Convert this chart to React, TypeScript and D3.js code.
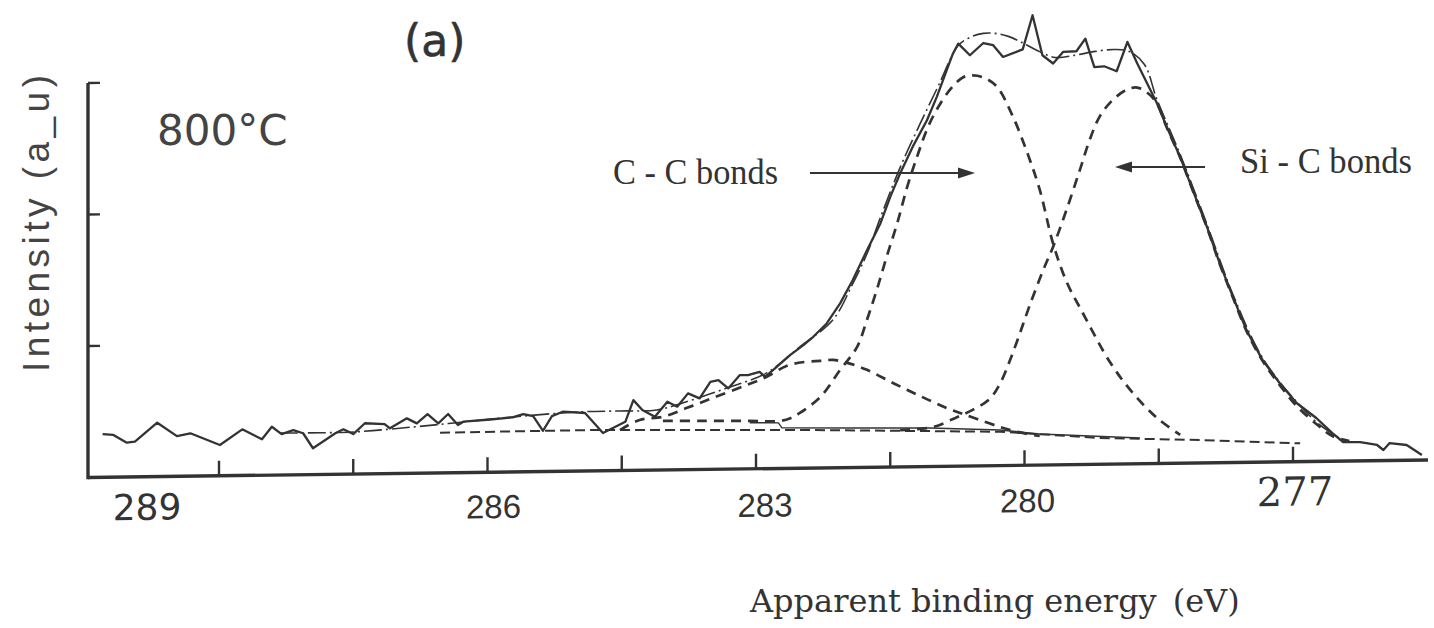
import React from "react";
import * as d3 from "d3";

// ---------- data (binding energy eV, intensity a.u.) ----------
const majorTicksE = [289, 287.5, 286, 284.5, 283, 281.5, 280, 278.5, 277];
const tickLabelValues = [289, 286, 283, 280, 277];
const intensityTicks = [100, 200, 300];

const measured: [number, number][] = [
  [290.30, 32.9], [290.18, 32.1], [290.03, 26.1], [289.94, 26.8], [289.69, 41.0], [289.47, 30.6],
  [289.32, 32.6], [288.99, 23.4], [288.74, 35.1], [288.52, 27.3], [288.41, 36.8], [288.30, 31.1],
  [288.17, 34.0], [288.06, 31.5], [287.95, 20.0], [287.70, 31.2], [287.61, 34.1], [287.50, 30.4],
  [287.37, 38.5], [287.15, 37.7], [287.09, 34.4], [286.90, 41.8], [286.79, 37.9], [286.67, 44.8],
  [286.55, 37.7], [286.44, 44.7], [286.33, 36.2], [286.27, 38.7], [285.97, 40.1], [285.72, 41.5],
  [285.60, 43.9], [285.49, 42.3], [285.38, 31.0], [285.28, 42.1], [285.16, 45.3], [284.91, 44.1],
  [284.71, 28.7], [284.46, 37.0], [284.37, 53.4], [284.27, 45.8], [284.13, 40.5], [283.99, 51.8],
  [283.88, 48.0], [283.76, 58.0], [283.63, 54.1], [283.51, 66.6], [283.42, 67.8], [283.31, 61.4],
  [283.18, 71.4], [283.09, 71.3], [282.96, 73.7], [282.90, 69.8], [282.81, 74.9], [282.62, 86.1],
  [282.47, 93.6], [282.36, 99.8], [282.21, 109.8], [282.06, 124.9], [281.92, 142.4], [281.76, 165.1],
  [281.61, 185.3], [281.50, 205.4], [281.39, 223.1], [281.25, 243.2], [281.09, 263.3], [280.98, 281.0],
  [280.87, 301.1], [280.80, 313.7], [280.74, 321.3], [280.61, 312.3], [280.46, 321.5], [280.35, 319.7],
  [280.24, 310.7], [280.02, 316.3], [279.91, 342.1], [279.80, 311.6], [279.68, 305.2], [279.57, 313.9],
  [279.42, 314.3], [279.32, 323.8], [279.22, 302.0], [279.11, 302.6], [278.97, 298.7], [278.85, 320.9],
  [278.74, 304.4], [278.52, 274.0], [278.41, 255.7], [278.26, 232.7], [278.12, 207.5], [277.96, 179.2],
  [277.82, 151.8], [277.67, 125.8], [277.52, 100.5], [277.34, 77.6], [277.15, 60.0], [276.96, 44.6],
  [276.74, 33.0], [276.56, 21.4], [276.44, 14.5], [276.25, 14.3], [276.06, 11.9], [275.99, 8.0],
  [275.92, 13.2], [275.73, 11.6], [275.56, 3.8],
];

const envelope: [number, number][] = [
  [288.32, 31.9], [287.50, 32.0], [286.83, 35.2], [286.27, 38.5], [285.72, 41.8], [284.97, 45.0],
  [284.52, 45.3], [284.11, 45.7], [283.82, 50.8], [283.32, 61.8], [282.88, 72.8], [282.51, 92.3],
  [282.14, 112.5], [281.92, 139.7], [281.76, 162.4], [281.61, 189.7], [281.39, 227.6], [281.17, 260.2],
  [280.94, 292.7], [280.83, 309.4], [280.74, 320.0], [280.61, 325.9], [280.46, 328.8], [280.33, 328.7],
  [280.18, 326.3], [280.05, 322.3], [279.88, 316.1], [279.66, 309.8], [279.44, 311.2], [279.21, 314.0],
  [278.99, 315.3], [278.83, 313.6], [278.66, 303.6], [278.52, 276.8], [278.26, 234.7], [277.96, 181.1],
  [277.67, 127.6], [277.34, 79.3], [276.96, 45.5], [276.70, 27.7], [276.48, 17.6],
];

const background: [number, number][] = [
  [286.53, 30.6], [284.74, 31.1], [282.51, 29.1], [280.27, 25.7], [279.16, 20.0], [278.04, 17.4], [276.92, 13.9],
];

const backgroundSolid: [number, number][] = [
  [283.07, 35.0], [282.75, 34.7], [282.71, 30.8], [281.95, 30.1], [281.06, 29.3], [280.27, 27.0],
  [279.83, 23.6], [278.71, 19.6],
];

const peakCC: [number, number][] = [
  [284.04, 37.3], [283.63, 36.9], [283.07, 36.4], [282.73, 36.1], [282.61, 38.3], [282.51, 42.0],
  [282.28, 54.0], [282.06, 74.3], [281.87, 91.7], [281.76, 112.2], [281.65, 134.9], [281.54, 159.9],
  [281.42, 185.8], [281.31, 213.0], [281.20, 235.8], [281.09, 256.3], [280.98, 271.4], [280.83, 286.5],
  [280.69, 295.5], [280.58, 297.0], [280.46, 295.3], [280.31, 288.3], [280.13, 265.3], [279.97, 237.8],
  [279.83, 209.4], [279.68, 168.2], [279.53, 139.1], [279.35, 115.4], [279.04, 77.0], [278.79, 53.9],
  [278.52, 34.7], [278.26, 21.5],
];

const peakSiC: [number, number][] = [
  [281.39, 28.0], [281.02, 30.0], [280.75, 37.4], [280.58, 42.6], [280.39, 50.7], [280.27, 62.8],
  [280.16, 80.3], [280.05, 100.7], [279.94, 121.9], [279.79, 148.4], [279.68, 165.9], [279.53, 193.9],
  [279.38, 224.3], [279.27, 247.1], [279.16, 264.4], [279.01, 277.2], [278.85, 284.8], [278.74, 286.1],
  [278.63, 282.2], [278.52, 273.8], [278.41, 255.4], [278.26, 232.4], [278.12, 207.2], [277.96, 178.8],
  [277.82, 151.3], [277.67, 125.3], [277.52, 100.0], [277.34, 77.0], [277.15, 58.6], [276.96, 42.4],
  [276.74, 28.5], [276.56, 19.2], [276.37, 15.2],
];

const peakSmall: [number, number][] = [
  [284.52, 30.8], [284.30, 38.3], [284.04, 40.4], [283.77, 47.0], [283.48, 54.3], [283.10, 63.9],
  [282.88, 69.8], [282.66, 77.9], [282.45, 80.8], [282.28, 81.4], [282.14, 82.0], [281.98, 79.6],
  [281.76, 74.1], [281.47, 63.9], [281.17, 53.8], [280.87, 44.3], [280.72, 40.4], [280.53, 35.6],
  [280.27, 29.3], [280.08, 25.4], [279.83, 22.1],
];

// ---------- drawing ----------
const W = 1434;
const H = 628;
const ORIGIN_X = 88;
const ORIGIN_Y = 477.5;
const INK = "#333";

export default function App() {
  const x = d3.scaleLinear().domain([289, 277]).range([131, 1205]);
  const y = d3.scaleLinear().domain([0, 300]).range([0, -394.5]);

  const jag = d3
    .line<[number, number]>()
    .x((d) => x(d[0]))
    .y((d) => y(d[1]));
  const smooth = d3
    .line<[number, number]>()
    .x((d) => x(d[0]))
    .y((d) => y(d[1]))
    .curve(d3.curveCatmullRom.alpha(0.5));

  const labelLook: Record<number, { dx: number; dy: number; size: number; family: string }> = {
    289: { dx: -72, dy: 43, size: 36, family: "'DejaVu Sans', sans-serif" },
    286: { dx: 6, dy: 46, size: 33, family: "'Liberation Sans', Arial, sans-serif" },
    283: { dx: 9, dy: 48, size: 33, family: "'Liberation Sans', Arial, sans-serif" },
    280: { dx: 3, dy: 47, size: 33, family: "'Liberation Sans', Arial, sans-serif" },
    277: { dx: 2, dy: 44, size: 40, family: "'DejaVu Serif', serif" },
  };

  const axisRight = 1340;

  return (
    <svg
      width={W}
      height={H}
      viewBox={`0 0 ${W} ${H}`}
      style={{ position: "absolute", left: 0, top: 0, background: "#fff" }}
    >
      <rect x={0} y={0} width={W} height={H} fill="#fff" />
      <g transform={`translate(${ORIGIN_X},${ORIGIN_Y}) skewY(-0.75)`}>
        {/* background lines */}
        <path d={jag(background) || ""} fill="none" stroke={INK} strokeWidth={2} strokeDasharray="10 5" />
        <path d={jag(backgroundSolid) || ""} fill="none" stroke={INK} strokeWidth={1.4} />
        {/* fitted components */}
        <path d={smooth(peakSmall) || ""} fill="none" stroke={INK} strokeWidth={2.7} strokeDasharray="10 7" />
        <path d={smooth(peakCC) || ""} fill="none" stroke={INK} strokeWidth={2.7} strokeDasharray="10 7" />
        <path d={smooth(peakSiC) || ""} fill="none" stroke={INK} strokeWidth={2.7} strokeDasharray="10 7" />
        {/* envelope */}
        <path d={smooth(envelope) || ""} fill="none" stroke={INK} strokeWidth={1.6} strokeDasharray="18 4 2 4" />
        {/* measured spectrum */}
        <path d={jag(measured) || ""} fill="none" stroke={INK} strokeWidth={2.3} strokeLinejoin="round" />

        {/* axes */}
        <line x1={0} y1={0} x2={axisRight} y2={0} stroke={INK} strokeWidth={3.4} />
        <line x1={0} y1={1.7} x2={0} y2={y(300)} stroke={INK} strokeWidth={3.4} />
        {majorTicksE.map((t) => (
          <line key={t} x1={x(t)} x2={x(t)} y1={0} y2={-15} stroke={INK} strokeWidth={2.4} />
        ))}
        {intensityTicks.map((t) => (
          <line key={t} x1={0} x2={12} y1={y(t)} y2={y(t)} stroke={INK} strokeWidth={2.4} />
        ))}
        {tickLabelValues.map((v) => {
          const lk = labelLook[v];
          return (
            <text
              key={v}
              x={x(v) + lk.dx}
              y={lk.dy}
              textAnchor="middle"
              fontFamily={lk.family}
              fontSize={lk.size}
              fill={INK}
            >
              {v}
            </text>
          );
        })}
      </g>

      {/* y axis title */}
      <text
        transform="translate(49,223.5) rotate(-90)"
        textAnchor="middle"
        fontFamily="'Liberation Sans', Arial, sans-serif"
        fontSize={37}
        fill="#444"
        textLength={297}
        lengthAdjust="spacing"
      >
        Intensity (a_u)
      </text>

      {/* panel labels */}
      <text x={404} y={56} fontFamily="'DejaVu Sans', sans-serif" fontSize={44} fill={INK} stroke={INK} strokeWidth={0.6}>
        (a)
      </text>
      <text x={157} y={145} fontFamily="'DejaVu Sans', sans-serif" fontSize={42} fill="#444">
        800°C
      </text>

      {/* annotations */}
      <text
        x={613}
        y={184}
        fontFamily="'Liberation Serif', 'Times New Roman', serif"
        fontSize={35}
        fill={INK}
        textLength={165}
        lengthAdjust="spacingAndGlyphs"
      >
        C - C bonds
      </text>
      <line x1={810} y1={173} x2={960} y2={173} stroke={INK} strokeWidth={2.2} />
      <polygon points="975,173 958,167.5 958,178.5" fill={INK} />

      <text
        x={1240}
        y={173}
        fontFamily="'Liberation Serif', 'Times New Roman', serif"
        fontSize={35}
        fill={INK}
        textLength={172}
        lengthAdjust="spacingAndGlyphs"
      >
        Si - C bonds
      </text>
      <line x1={1205} y1={167} x2={1130} y2={167} stroke={INK} strokeWidth={2.2} />
      <polygon points="1115,167 1132,161.5 1132,172.5" fill={INK} />

      {/* x axis title */}
      <text x={750} y={612} fontFamily="'DejaVu Serif', serif" fontSize={32} fill={INK}>
        Apparent binding energy
        <tspan dx={16}>(eV)</tspan>
      </text>
    </svg>
  );
}
